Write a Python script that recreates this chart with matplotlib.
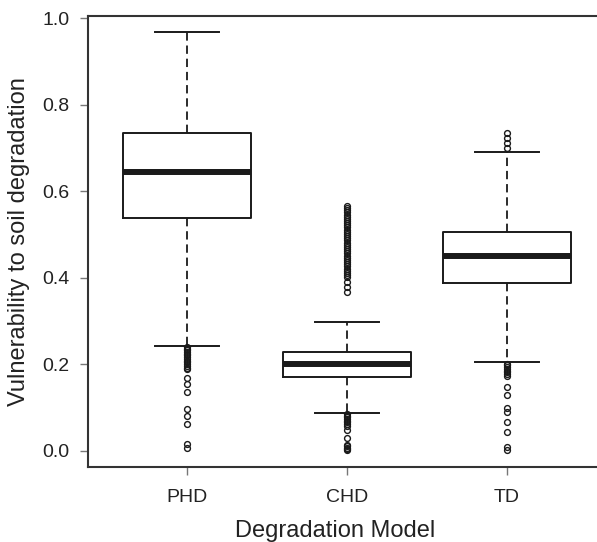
import matplotlib
matplotlib.use("Agg")
import matplotlib.pyplot as plt

plt.rcParams['font.family'] = ['Liberation Sans', 'DejaVu Sans']
plt.rcParams['lines.scale_dashes'] = False

# degradation models and box statistics
models = ['PHD', 'CHD', 'TD']
q1 = [0.538, 0.171, 0.388]
med = [0.644, 0.201, 0.450]
q3 = [0.734, 0.229, 0.506]
whislo = [0.243, 0.088, 0.205]
whishi = [0.968, 0.298, 0.690]

phd_fliers = [0.240, 0.236, 0.232, 0.228, 0.224, 0.220, 0.216, 0.212,
              0.208, 0.204, 0.200, 0.196, 0.192, 0.188, 0.169, 0.153,
              0.136, 0.097, 0.079, 0.062, 0.016, 0.005]
chd_fliers = [0.566, 0.561, 0.556, 0.551, 0.546, 0.541, 0.536, 0.531,
              0.526, 0.521, 0.516, 0.511, 0.506, 0.501, 0.496, 0.491,
              0.486, 0.481, 0.476, 0.471, 0.466, 0.461, 0.456, 0.451,
              0.446, 0.441, 0.436, 0.431, 0.426, 0.421, 0.416, 0.411,
              0.406, 0.401, 0.390, 0.379, 0.367,
              0.085, 0.081, 0.077, 0.073, 0.069, 0.065, 0.061, 0.057,
              0.048, 0.030, 0.014, 0.010, 0.006, 0.003, 0.001]
td_fliers = [0.734, 0.723, 0.711, 0.700,
             0.201, 0.197, 0.193, 0.189, 0.185, 0.181, 0.177, 0.173,
             0.148, 0.129, 0.099, 0.090, 0.067, 0.044, 0.009, 0.002]
fliers = [phd_fliers, chd_fliers, td_fliers]

stats = []
for i in range(len(models)):
    stats.append({'label': models[i], 'med': med[i], 'q1': q1[i], 'q3': q3[i],
                  'whislo': whislo[i], 'whishi': whishi[i], 'fliers': fliers[i]})

fig = plt.figure(figsize=(5.97, 5.42), dpi=100)
# plot region runs a little past the right edge of the picture
ax = fig.add_axes([0.1474, 0.1384, 0.868, 0.8327])

ink = '#1a1a1a'
ax.bxp(stats, positions=[1, 2, 3], widths=0.8, capwidths=0.4,
       boxprops=dict(color=ink, linewidth=1.4),
       medianprops=dict(color=ink, linewidth=4.3, solid_capstyle='butt'),
       whiskerprops=dict(color=ink, linewidth=1.3, linestyle=(0, (6, 3.5))),
       capprops=dict(color=ink, linewidth=1.4),
       flierprops=dict(marker='o', markersize=4.2, markerfacecolor='none',
                       markeredgecolor=ink, markeredgewidth=1.0))

ax.set_xlim(0.38, 3.62)
ax.set_ylim(-0.038, 1.006)
ax.set_yticks([0.0, 0.2, 0.4, 0.6, 0.8, 1.0])
ax.set_yticklabels(['0.0', '0.2', '0.4', '0.6', '0.8', '1.0'])
ax.set_xticks([1, 2, 3])
ax.set_xticklabels(models)

for s in ax.spines.values():
    s.set_color('#333333')
    s.set_linewidth(1.5)
ax.tick_params(axis='both', length=5.5, width=1.0, color='#777777',
               labelsize=14, labelcolor='#222222', pad=8)
ax.tick_params(axis='x', pad=10)

ax.set_ylabel('Vulnerability to soil degradation', fontsize=17,
              color='#222222')
ax.yaxis.set_label_coords(-0.112, 0.5)
ax.set_xlabel('Degradation Model', fontsize=17, color='#222222')
ax.xaxis.set_label_coords(0.477, -0.118)

fig.savefig('out.png', dpi=100)
